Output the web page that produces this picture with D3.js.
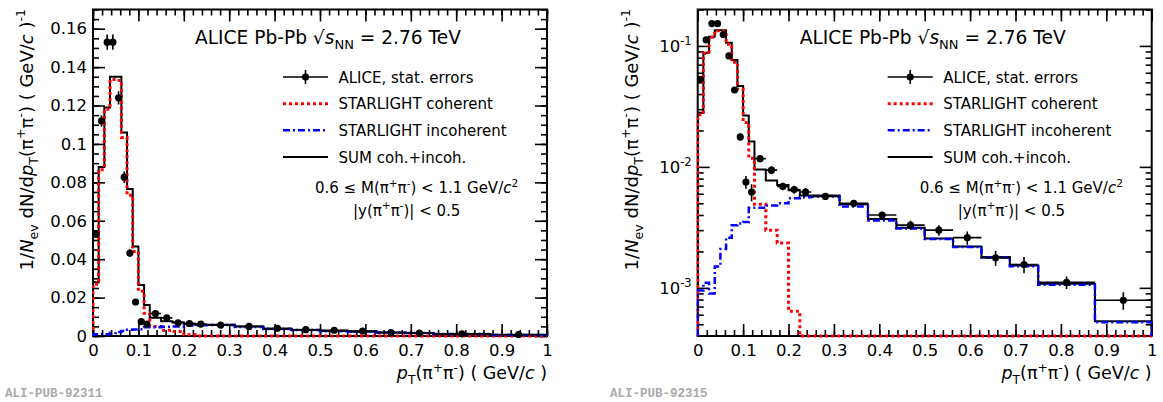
<!DOCTYPE html>
<html><head><meta charset="utf-8">
<script src="https://cdn.jsdelivr.net/npm/d3@7"></script>
<style>
body{margin:0;background:#fff;}
svg{display:block;font-family:"DejaVu Sans",sans-serif;}
</style>
</head><body>
<svg id="c" width="1163" height="402"></svg>
<script>
// ---------------- data ----------------
const binEdges = [0,0.0125,0.025,0.0375,0.05,0.0625,0.075,0.0875,0.1,0.1125,0.125,0.15,0.175,0.2,0.225,0.25,0.3125,0.375,0.4375,0.5,0.5625,0.625,0.6875,0.75,0.875,1.0];
const sumValues   = [0.028,0.088,0.119,0.135,0.135,0.106,0.0766,0.0466,0.0266,0.0162,0.0095,0.0077,0.0071,0.0064,0.0058,0.0058,0.0049,0.0037,0.00314,0.00256,0.0022,0.0018,0.00153,0.00108,0.00053];
const cohValues   = [0.027,0.0866,0.118,0.1335,0.133,0.1034,0.0733,0.0440,0.0233,0.0118,0.0049,0.0030,0.00235,0.00064,0,0,0,0,0,0,0,0,0,0,0];
const incohValues = [0.00095,0.0011,0.0009,0.0015,0.0021,0.0026,0.0033,0.0034,0.0035,0.0046,0.0046,0.0048,0.0050,0.0055,0.0056,0.0057,0.0047,0.0036,0.0031,0.00253,0.00218,0.00178,0.00151,0.00106,0.00052];
const dataValues  = [0.053,0.112,0.153,0.153,0.124,0.0827,0.0432,0.0177,0.0075,0.0062,0.0117,0.0094,0.0069,0.0065,0.0062,0.0057,0.0050,0.0040,0.0033,0.0030,0.0026,0.00177,0.00156,0.00111,0.00079];
const dataErrors  = [0.002,0.003,0.004,0.004,0.0035,0.003,0.002,0.0012,0.0009,0.001,0.0008,0.0007,0.0005,0.0005,0.0005,0.0003,0.0003,0.00025,0.00028,0.0003,0.00033,0.00025,0.00024,0.00013,0.00013];

const xTickValues = [0,0.1,0.2,0.3,0.4,0.5,0.6,0.7,0.8,0.9,1];
const xTickLabels = ["0","0.1","0.2","0.3","0.4","0.5","0.6","0.7","0.8","0.9","1"];
const yLinTickValues = [0,0.02,0.04,0.06,0.08,0.1,0.12,0.14,0.16];
const yLinTickLabels = ["0","0.02","0.04","0.06","0.08","0.1","0.12","0.14","0.16"];
const yLogTickValues = [0.1,0.01,0.001];
const yLogTickExps = ["-1","-2","-3"];
const legendLabels = ["ALICE, stat. errors","STARLIGHT coherent","STARLIGHT incoherent","SUM coh.+incoh."];
const pubLabels = ["ALI-PUB-92311","ALI-PUB-92315"];

// ---------------- layout ----------------
const svg = d3.select("#c");
const TOP = 9.5, BOT = 336, PW = 454;
const panels = [
  {left:93, log:false, pub:pubLabels[0], pubX:5},
  {left:697.7, log:true, pub:pubLabels[1], pubX:610}
];

function rich(sel, parts, fs){
  let shift = 0;
  parts.forEach(p=>{
    const t = p[0], st = p[1]||"";
    let target = 0, f = fs;
    if (st.includes("sub")) { target = 0.28*fs; f = fs*0.7; }
    if (st.includes("sup")) { target = -0.42*fs; f = fs*0.7; }
    const ts = sel.append("tspan").text(t).attr("dy", (target-shift).toFixed(2)).attr("font-size", f);
    if (st.includes("i")) ts.attr("font-style","italic");
    shift = target;
  });
}

panels.forEach((P, pi)=>{
  const g = svg.append("g");
  const x = d3.scaleLinear().domain([0,1]).range([P.left, P.left+PW]);
  const y = P.log ? d3.scaleLog().domain([4e-4,0.2]).range([BOT,TOP])
                  : d3.scaleLinear().domain([0,0.17]).range([BOT,TOP]);
  const yv = v => P.log ? (v<=4e-4 ? BOT : y(v)) : y(v);

  // frame first
  g.append("rect").attr("x",P.left).attr("y",TOP).attr("width",PW).attr("height",BOT-TOP)
    .attr("fill","none").attr("stroke","#000").attr("stroke-width",2);

  const clipId = "clip"+pi;
  svg.append("clipPath").attr("id",clipId).append("rect")
    .attr("x",P.left-1).attr("y",TOP).attr("width",PW+2).attr("height",BOT-TOP+2);

  // axes (ticks inside)
  const xMinor = d3.range(0,1.0001,0.02);
  const ax = g.append("g");
  const mk = (axis, tr)=>{
    const s = ax.append("g").attr("transform",tr).call(axis);
    s.select(".domain").remove();
    s.selectAll("line").attr("stroke-width",1.6);
    return s;
  };
  const xb = mk(d3.axisBottom(x).tickValues(xTickValues).tickSize(-12).tickPadding(8).tickFormat((d,i)=>xTickLabels[i]), `translate(0,${BOT})`);
  xb.selectAll("text").attr("font-size",16.5).attr("font-family","DejaVu Sans").attr("fill","#000");
  mk(d3.axisBottom(x).tickValues(xMinor).tickSize(-6).tickFormat(""), `translate(0,${BOT})`);
  mk(d3.axisTop(x).tickValues(xTickValues).tickSize(-12).tickFormat(""), `translate(0,${TOP})`);
  mk(d3.axisTop(x).tickValues(xMinor).tickSize(-6).tickFormat(""), `translate(0,${TOP})`);

  if (!P.log){
    const yMinor = d3.range(0,0.1701,0.005);
    const yl = mk(d3.axisLeft(y).tickValues(yLinTickValues).tickSize(-12).tickPadding(6).tickFormat((d,i)=>yLinTickLabels[i]), `translate(${P.left},0)`);
    yl.selectAll("text").attr("font-size",16.5).attr("font-family","DejaVu Sans").attr("fill","#000");
    mk(d3.axisLeft(y).tickValues(yMinor).tickSize(-6).tickFormat(""), `translate(${P.left},0)`);
    mk(d3.axisRight(y).tickValues(yLinTickValues).tickSize(-12).tickFormat(""), `translate(${P.left+PW},0)`);
    mk(d3.axisRight(y).tickValues(yMinor).tickSize(-6).tickFormat(""), `translate(${P.left+PW},0)`);
  } else {
    const yMinor = [];
    [1e-4,1e-3,1e-2,1e-1].forEach(d=>{ for(let k=2;k<=9;k++){ const v=k*d; if(v>4e-4 && v<=0.2001) yMinor.push(v);} });
    mk(d3.axisLeft(y).tickValues(yLogTickValues).tickSize(-12).tickFormat(""), `translate(${P.left},0)`);
    mk(d3.axisLeft(y).tickValues(yMinor).tickSize(-6).tickFormat(""), `translate(${P.left},0)`);
    mk(d3.axisRight(y).tickValues(yLogTickValues).tickSize(-12).tickFormat(""), `translate(${P.left+PW},0)`);
    mk(d3.axisRight(y).tickValues(yMinor).tickSize(-6).tickFormat(""), `translate(${P.left+PW},0)`);
    yLogTickValues.forEach((v,i)=>{
      const t = g.append("text").attr("x",P.left-6).attr("y",y(v)+6).attr("text-anchor","end").attr("font-size",16.5);
      rich(t, [["10"],[yLogTickExps[i],"sup"]], 16.5);
    });
  }

  // histograms
  function histPath(vals){
    const p = d3.path();
    p.moveTo(x(binEdges[0]), BOT);
    vals.forEach((v,i)=>{
      p.lineTo(x(binEdges[i]), yv(v));
      p.lineTo(x(binEdges[i+1]), yv(v));
    });
    p.lineTo(x(binEdges[binEdges.length-1]), BOT);
    return p.toString();
  }
  const hg = g.append("g").attr("clip-path",`url(#${clipId})`);
  hg.append("path").attr("d",histPath(sumValues)).attr("fill","none").attr("stroke","#000").attr("stroke-width",2);
  hg.append("path").attr("d",histPath(cohValues)).attr("fill","none").attr("stroke","#ff0000").attr("stroke-width",3).attr("stroke-dasharray","3,3");
  hg.append("path").attr("d",histPath(incohValues)).attr("fill","none").attr("stroke","#0000ff").attr("stroke-width",2.5).attr("stroke-dasharray","7,3,2,3");

  // data points
  const dg = hg.append("g");
  dataValues.forEach((v,i)=>{
    const lo = binEdges[i], hi = binEdges[i+1], c = (lo+hi)/2;
    dg.append("line").attr("x1",x(lo)).attr("x2",x(hi)).attr("y1",y(v)).attr("y2",y(v)).attr("stroke","#000").attr("stroke-width",1.6);
    dg.append("line").attr("x1",x(c)).attr("x2",x(c)).attr("y1",y(v-dataErrors[i])).attr("y2",y(v+dataErrors[i])).attr("stroke","#000").attr("stroke-width",1.6);
    dg.append("circle").attr("cx",x(c)).attr("cy",y(v)).attr("r",3.6).attr("fill","#000");
  });

  // axis titles
  const xt = g.append("text").attr("x",P.left+PW).attr("y",379).attr("text-anchor","end").attr("font-size",17.5);
  rich(xt, [["p","i"],["T","sub"],["(π"],["+","sup"],["π"],["-","sup"],[") ( GeV/"],["c","i"],[" )"]], 17.5);
  const yt = g.append("text").attr("transform",`translate(${P.left-60},9) rotate(-90)`).attr("text-anchor","end").attr("font-size",18);
  rich(yt, [["1/"],["N","i"],["ev","sub"],[" dN/d"],["p","i"],["T","sub"],["(π"],["+","sup"],["π"],["-","sup"],[") ( GeV/"],["c","i"],[" )"],["-1","sup"]], 18);

  // header
  const ht = g.append("text").attr("x",P.left+102).attr("y",43.5).attr("font-size",18.6);
  rich(ht, [["ALICE Pb-Pb √"],["s","i"],["NN","sub"],[" = 2.76 TeV"]], 18.6);

  // legend
  const LX1 = P.left+190, LX2 = P.left+235, LT = P.left+245.5;
  const rows = [77,103.7,130.3,157];
  const lg = g.append("g");
  lg.append("line").attr("x1",LX1).attr("x2",LX2).attr("y1",rows[0]).attr("y2",rows[0]).attr("stroke","#000").attr("stroke-width",1.6);
  lg.append("line").attr("x1",(LX1+LX2)/2).attr("x2",(LX1+LX2)/2).attr("y1",rows[0]-7).attr("y2",rows[0]+7).attr("stroke","#000").attr("stroke-width",1.6);
  lg.append("circle").attr("cx",(LX1+LX2)/2).attr("cy",rows[0]).attr("r",3.6).attr("fill","#000");
  lg.append("line").attr("x1",LX1).attr("x2",LX2).attr("y1",rows[1]).attr("y2",rows[1]).attr("stroke","#ff0000").attr("stroke-width",3).attr("stroke-dasharray","3,3");
  lg.append("line").attr("x1",LX1).attr("x2",LX2).attr("y1",rows[2]).attr("y2",rows[2]).attr("stroke","#0000ff").attr("stroke-width",2.5).attr("stroke-dasharray","7,3,2,3");
  lg.append("line").attr("x1",LX1).attr("x2",LX2).attr("y1",rows[3]).attr("y2",rows[3]).attr("stroke","#000").attr("stroke-width",2);
  legendLabels.forEach((l,i)=>{
    lg.append("text").attr("x",LT).attr("y",rows[i]+5.5).attr("font-size",15).text(l);
  });

  // cuts text
  const m1 = g.append("text").attr("x",P.left+222).attr("y",193).attr("font-size",15);
  rich(m1, [["0.6 ≤ M(π"],["+","sup"],["π"],["-","sup"],[") < 1.1 GeV/"],["c","i"],["2","sup"]], 15);
  const m2 = g.append("text").attr("x",P.left+260).attr("y",215.5).attr("font-size",15);
  rich(m2, [["|y(π"],["+","sup"],["π"],["-","sup"],[")| < 0.5"]], 15);

  // publication label
  svg.append("text").attr("x",P.pubX).attr("y",397).attr("font-family","Liberation Mono").attr("font-weight","bold")
    .attr("font-size",12.5).attr("fill","#aaaaaa").text(P.pub);
});
</script>
</body></html>
